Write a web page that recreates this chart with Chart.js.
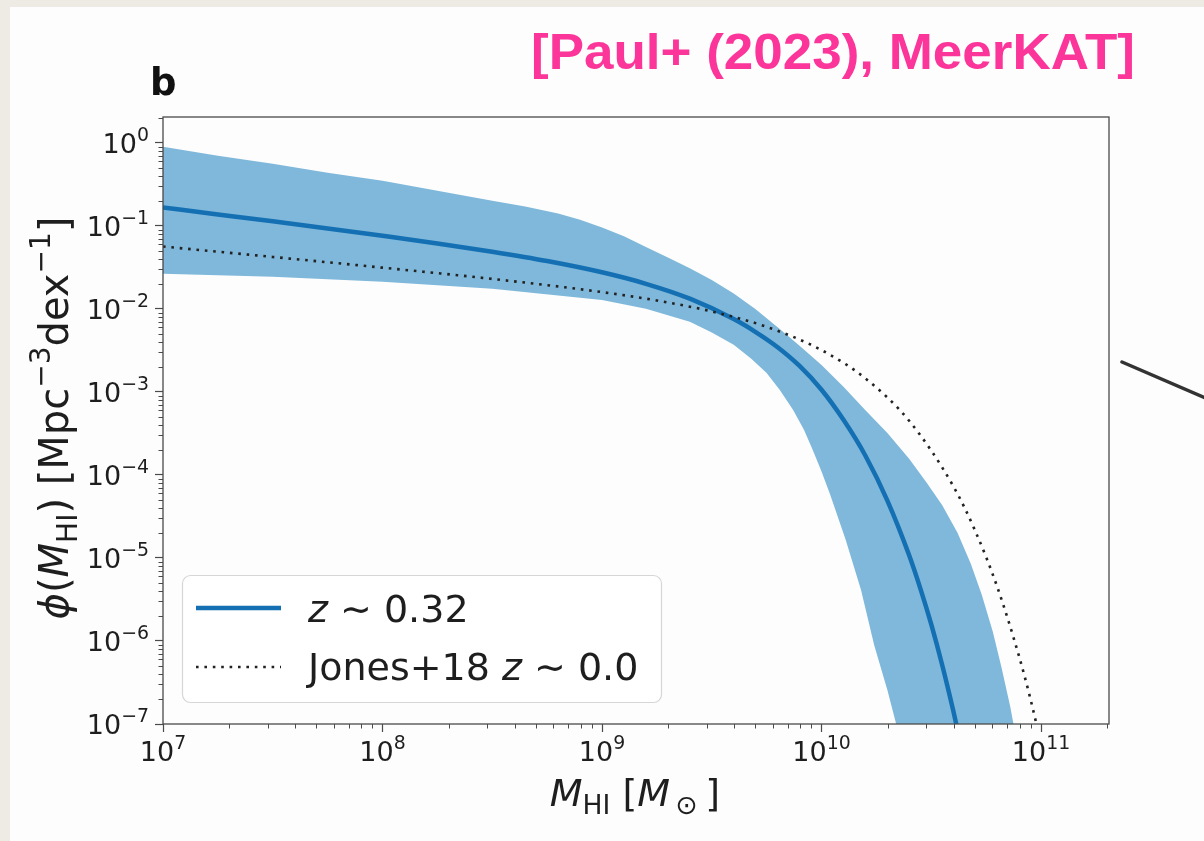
<!DOCTYPE html>
<html>
<head>
<meta charset="utf-8">
<script src="https://cdn.jsdelivr.net/npm/chart.js@4.4.0/dist/chart.umd.min.js"></script>
<style>
  html, body { margin: 0; padding: 0; }
  body { width: 1204px; height: 841px; background: #eeebe4; position: relative; overflow: hidden; }
  #panel { position: absolute; left: 10px; top: 7px; right: 0; bottom: 0; background: #fdfdfd; }
  #wrap { position: absolute; left: 0; top: 0; width: 1204px; height: 841px; }
</style>
</head>
<body>
<div id="panel"></div>
<div id="wrap"><canvas id="c"></canvas></div>
<script>
// HI mass function at z ~ 0.32 (best fit and its spread) and the Jones+18 local fit
const paulLogM = [7.0, 7.25, 7.5, 7.75, 8.0, 8.25, 8.5, 8.75, 9.0, 9.2, 9.4, 9.6, 9.7, 9.8, 9.9, 10.0, 10.1, 10.2, 10.3, 10.4, 10.45, 10.5, 10.55, 10.6, 10.63];
const paulPhi  = [0.166, 0.137, 0.113, 0.0927, 0.0757, 0.0613, 0.0487, 0.0376, 0.0275, 0.0200, 0.01324, 7.52e-3, 5.25e-3, 3.45e-3, 2.05e-3, 1.06e-3, 4.6e-4, 1.7e-4, 4.9e-5, 1.06e-5, 4.3e-6, 1.58e-6, 5.1e-7, 1.45e-7, 6.4e-8];

const bandUpperLogM = [7.0, 7.25, 7.5, 7.75, 8.0, 8.25, 8.5, 8.65, 8.8, 8.9, 9.0, 9.1, 9.2, 9.3, 9.4, 9.5, 9.6, 9.7, 9.8, 9.9, 10.0, 10.1, 10.2, 10.3, 10.4, 10.48, 10.55, 10.62, 10.68, 10.73, 10.78, 10.82, 10.86, 10.89, 10.92];
const bandUpperPhi  = [0.895, 0.697, 0.558, 0.435, 0.348, 0.264, 0.200, 0.171, 0.140, 0.118, 0.0955, 0.0745, 0.0555, 0.0415, 0.0308, 0.0222, 0.0153, 9.9e-3, 6.0e-3, 3.6e-3, 2.1e-3, 1.15e-3, 6.0e-4, 3.2e-4, 1.55e-4, 8.0e-5, 4.3e-5, 2.0e-5, 8.5e-6, 3.6e-6, 1.3e-6, 4.8e-7, 1.6e-7, 6e-8, 2e-8];
const bandLowerLogM = [7.0, 7.5, 8.0, 8.5, 9.0, 9.2, 9.4, 9.5, 9.6, 9.68, 9.75, 9.81, 9.87, 9.92, 9.96, 10.0, 10.04, 10.11, 10.18, 10.24, 10.3, 10.34, 10.38];
const bandLowerPhi  = [0.0264, 0.0243, 0.0211, 0.0174, 0.0128, 0.0100, 6.97e-3, 5.2e-3, 3.68e-3, 2.5e-3, 1.69e-3, 1.05e-3, 6.07e-4, 3.5e-4, 2.0e-4, 1.1e-4, 5.74e-5, 1.65e-5, 4.1e-6, 8.9e-7, 2.57e-7, 1.0e-7, 3e-8];

const jonesLogM = [7.0, 7.5, 8.0, 8.5, 9.0, 9.25, 9.5, 9.75, 10.0, 10.2, 10.4, 10.6, 10.7, 10.8, 10.9, 10.95, 11.0];
const jonesPhi  = [0.0562, 0.0421, 0.0313, 0.0229, 0.0159, 0.01257, 9.29e-3, 6.06e-3, 3.18e-3, 1.45e-3, 4.45e-4, 7.33e-5, 2.12e-5, 4.51e-6, 6.52e-7, 2.09e-7, 5.8e-8];

const xTickValues = [1e7, 1e8, 1e9, 1e10, 1e11];
const xTickExponents = ['7', '8', '9', '10', '11'];
const yTickValues = [1e0, 1e-1, 1e-2, 1e-3, 1e-4, 1e-5, 1e-6, 1e-7];
const yTickExponents = ['0', '\u22121', '\u22122', '\u22123', '\u22124', '\u22125', '\u22126', '\u22127'];

const legendLabels = ['z ~ 0.32', 'Jones+18 z ~ 0.0'];
const panelLetter = 'b';
const citation = '[Paul+ (2023), MeerKAT]';

const toPoints = (logM, phi) => logM.map((m, i) => ({ x: Math.pow(10, m), y: phi[i] }));
const bandPoints = toPoints(bandUpperLogM, bandUpperPhi)
  .concat(toPoints(bandLowerLogM, bandLowerPhi).reverse());

const FONT = '"DejaVu Sans"';
Chart.defaults.font.family = FONT;

function segFont(seg, S) {
  const size = S * (seg.k || 1);
  return (seg.it ? 'italic ' : '') + (seg.b ? 'bold ' : '') + size + 'px ' + FONT;
}
function richWidth(ctx, segs, S) {
  let w = 0;
  for (const s of segs) { ctx.font = segFont(s, S); w += ctx.measureText(s.t).width; }
  return w;
}
function drawRich(ctx, segs, S, x, y, align) {
  const w = richWidth(ctx, segs, S);
  let cx = align === 'left' ? x : (align === 'right' ? x - w : x - w / 2);
  ctx.textBaseline = 'alphabetic';
  ctx.textAlign = 'left';
  for (const s of segs) {
    ctx.font = segFont(s, S);
    ctx.fillText(s.t, cx, y + (s.dy || 0) * S);
    cx += ctx.measureText(s.t).width;
  }
}

const TEXT = '#1e1e1e';
const SUB = { k: 0.7, dy: 0.22 };
const SUP = { k: 0.7, dy: -0.45 };
const tickRich = exp => [{ t: '10' }, Object.assign({ t: exp }, SUP)];

const yTitle = [
  { t: '\u03d5', it: true }, { t: '(' }, { t: 'M', it: true }, Object.assign({ t: 'HI' }, SUB),
  { t: ') [Mpc' }, Object.assign({ t: '\u22123' }, SUP), { t: 'dex' }, Object.assign({ t: '\u22121' }, SUP), { t: ']' }
];
const xTitle = [
  { t: 'M', it: true }, Object.assign({ t: 'HI' }, SUB), { t: ' [' }, { t: 'M', it: true },
  Object.assign({ t: '\u2009\u2299' }, SUB), { t: '\u2009]' }
];
const legendRich = [
  [{ t: 'z', it: true }, { t: ' \u223c 0.32' }],
  [{ t: 'Jones+18 ' }, { t: 'z', it: true }, { t: ' \u223c 0.0' }]
];

const decor = {
  id: 'decor',
  afterDraw(chart) {
    const ctx = chart.ctx;
    const a = chart.chartArea;
    const xs = chart.scales.x, ys = chart.scales.y;
    ctx.save();

    // frame
    ctx.strokeStyle = '#4a4a4a';
    ctx.lineWidth = 1.3;
    ctx.strokeRect(a.left, a.top, a.right - a.left, a.bottom - a.top);

    // minor ticks
    ctx.lineWidth = 1;
    ctx.beginPath();
    for (let e = -8; e <= 0; e++) {
      for (let k = 2; k <= 9; k++) {
        const v = k * Math.pow(10, e);
        if (v <= ys.min || v >= ys.max) continue;
        const py = Math.round(ys.getPixelForValue(v)) + 0.5;
        ctx.moveTo(a.left - 4.5, py); ctx.lineTo(a.left, py);
      }
    }
    for (let e = 7; e <= 11; e++) {
      for (let k = 2; k <= 9; k++) {
        const v = k * Math.pow(10, e);
        if (v <= xs.min || v >= xs.max) continue;
        const px = Math.round(xs.getPixelForValue(v)) + 0.5;
        ctx.moveTo(px, a.bottom); ctx.lineTo(px, a.bottom + 4.5);
      }
    }
    ctx.stroke();

    // tick labels, 10 with a raised exponent
    ctx.fillStyle = TEXT;
    xs.ticks.forEach((t, i) => {
      const j = xTickValues.indexOf(t.value);
      if (j < 0) return;
      drawRich(ctx, tickRich(xTickExponents[j]), 27, xs.getPixelForTick(i), 761, 'center');
    });
    ys.ticks.forEach((t, i) => {
      const j = yTickValues.indexOf(t.value);
      if (j < 0) return;
      drawRich(ctx, tickRich(yTickExponents[j]), 27, 149, ys.getPixelForTick(i) + 10, 'right');
    });

    // legend
    const lx = 182.5, ly = 575.5, lw = 479, lh = 127;
    ctx.beginPath();
    ctx.roundRect(lx, ly, lw, lh, 8);
    ctx.fillStyle = 'rgba(255,255,255,0.85)';
    ctx.fill();
    ctx.strokeStyle = '#d6d6d6';
    ctx.lineWidth = 1.2;
    ctx.stroke();

    const rows = [{ ds: chart.data.datasets[1], y: 608, base: 622 }, { ds: chart.data.datasets[2], y: 667, base: 680 }];
    rows.forEach((r, i) => {
      ctx.save();
      ctx.strokeStyle = r.ds.borderColor;
      ctx.lineWidth = r.ds.borderWidth;
      ctx.setLineDash(r.ds.borderDash || []);
      ctx.lineCap = 'butt';
      ctx.beginPath();
      ctx.moveTo(196, r.y); ctx.lineTo(281, r.y);
      ctx.stroke();
      ctx.restore();
      ctx.fillStyle = TEXT;
      drawRich(ctx, legendRich[i], 38, 308, r.base, 'left');
    });

    // axis titles
    ctx.fillStyle = TEXT;
    drawRich(ctx, xTitle, 38, 635, 806, 'center');
    ctx.save();
    ctx.translate(68, 418);
    ctx.rotate(-Math.PI / 2);
    drawRich(ctx, yTitle, 40, 0, 0, 'center');
    ctx.restore();

    // panel letter
    ctx.font = 'bold 37px ' + FONT;
    ctx.fillStyle = '#111';
    ctx.textAlign = 'left';
    ctx.textBaseline = 'alphabetic';
    ctx.fillText(panelLetter, 150, 95);

    // citation
    ctx.save();
    ctx.font = 'bold 50px "Liberation Sans Narrow", "Liberation Sans", sans-serif';
    const cw = ctx.measureText(citation).width;
    ctx.translate(531, 69);
    ctx.scale(604 / cw, 1);
    ctx.fillStyle = '#fb3599';
    ctx.fillText(citation, 0, 0);
    ctx.restore();

    // pointer line on the right
    ctx.strokeStyle = '#333';
    ctx.lineWidth = 3.5;
    ctx.lineCap = 'round';
    ctx.beginPath();
    ctx.moveTo(1122, 362);
    ctx.lineTo(1210, 400);
    ctx.stroke();

    ctx.restore();
  }
};

new Chart(document.getElementById('c'), {
  type: 'scatter',
  data: {
    datasets: [
      {
        label: 'band',
        data: bandPoints,
        showLine: true,
        fill: 'shape',
        backgroundColor: 'rgb(127,184,218)',
        borderColor: 'rgba(0,0,0,0)',
        borderWidth: 0,
        pointRadius: 0,
        tension: 0,
        order: 2,
        clip: 0
      },
      {
        label: legendLabels[0],
        data: toPoints(paulLogM, paulPhi),
        showLine: true,
        borderColor: '#1470b3',
        borderWidth: 4.5,
        pointRadius: 0,
        cubicInterpolationMode: 'monotone',
        order: 1,
        clip: 0
      },
      {
        label: legendLabels[1],
        data: toPoints(jonesLogM, jonesPhi),
        showLine: true,
        borderColor: '#222',
        borderWidth: 2.6,
        borderDash: [2.6, 5.8],
        pointRadius: 0,
        cubicInterpolationMode: 'monotone',
        order: 0,
        clip: 0
      }
    ]
  },
  options: {
    responsive: true,
    maintainAspectRatio: false,
    animation: false,
    events: [],
    layout: { padding: { top: 117, right: 95, left: 0, bottom: 0 } },
    plugins: { legend: { display: false }, tooltip: { enabled: false } },
    scales: {
      x: {
        type: 'logarithmic',
        min: 1e7,
        max: 2.04e11,
        afterFit: s => { s.height = 117; },
        afterBuildTicks: s => { s.ticks = xTickValues.map(v => ({ value: v })); },
        border: { display: false },
        grid: { drawOnChartArea: false, drawTicks: true, tickLength: 8, tickColor: '#4a4a4a', tickWidth: 1.2 },
        ticks: { display: false, autoSkip: false }
      },
      y: {
        type: 'logarithmic',
        min: 1e-7,
        max: 2.04,
        afterFit: s => { s.width = 163; },
        afterBuildTicks: s => { s.ticks = yTickValues.map(v => ({ value: v })); },
        border: { display: false },
        grid: { drawOnChartArea: false, drawTicks: true, tickLength: 8, tickColor: '#4a4a4a', tickWidth: 1.2 },
        ticks: { display: false, autoSkip: false }
      }
    }
  },
  plugins: [decor]
});
</script>
</body>
</html>
